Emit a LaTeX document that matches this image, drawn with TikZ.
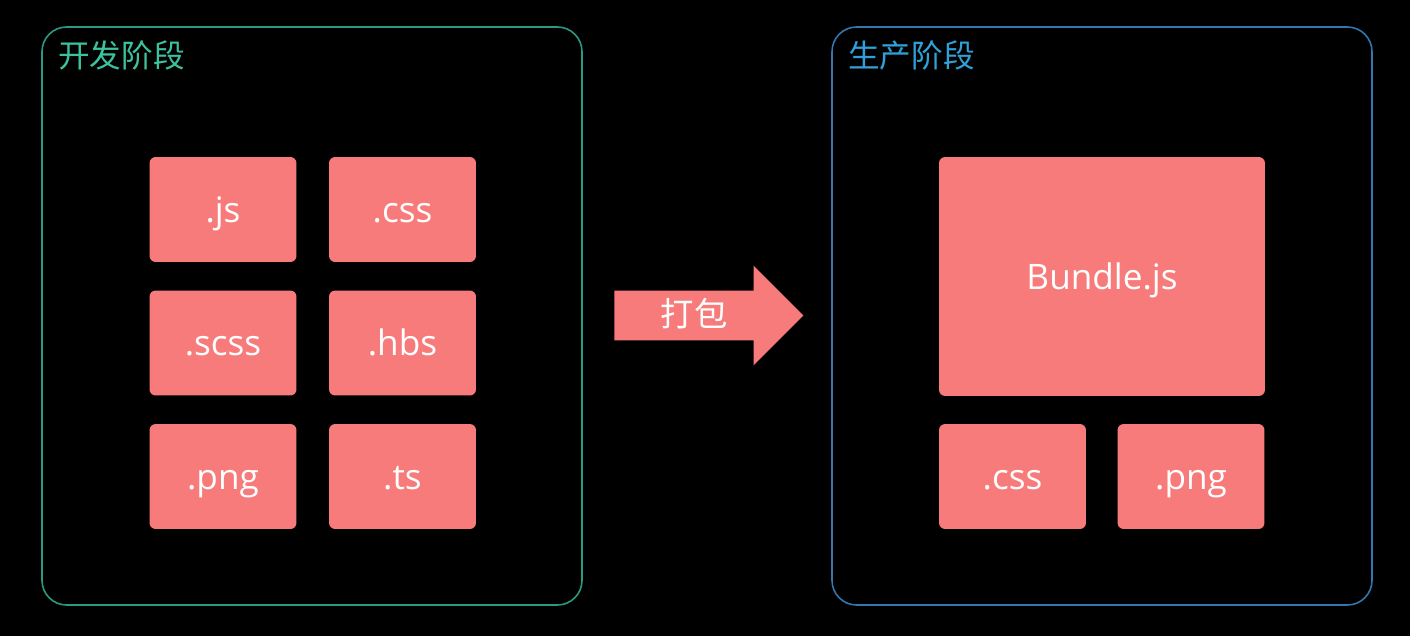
\documentclass[tikz,border=0pt]{standalone}
\usepackage{fontspec}
\setmainfont{Open Sans}
\newfontfamily\cjk{Noto Sans CJK SC}
\usepackage{tikz}
\usetikzlibrary{positioning, shapes.arrows}

\definecolor{boxred}{HTML}{F87B7B}
\definecolor{devgreen}{HTML}{3CC29C}
\definecolor{devframe}{HTML}{2C9A80}
\definecolor{prodblue}{HTML}{2FA0D8}
\definecolor{prodframe}{HTML}{3477AE}

\tikzset{
  filebox/.style={fill=boxred, rounded corners=3.5pt, text=white,
    font=\fontsize{20}{22}\selectfont, minimum width=2.94cm,
    minimum height=2.1cm, inner sep=0pt, text height=14.5pt, text depth=0pt},
  stagetitle/.style={font=\cjk\fontsize{18}{20}\selectfont, anchor=west,
    inner sep=0pt},
}

\begin{document}
\begin{tikzpicture}[x=0.02cm, y=-0.02cm]

% --- Background ---
\fill[black] (0, 0) rectangle (1410, 636);

% --- Development stage ---
\draw[devframe, line width=0.9pt, rounded corners=14pt] (42, 27) rectangle (582, 605);
\node[stagetitle, text=devgreen] (devtitle) at (58, 55) {开发阶段};

\node[filebox] (js) at (223, 209.5) {.js};
\node[filebox] (css) at (402.5, 209.5) {.css};
\node[filebox] (scss) at (223, 343) {.scss};
\node[filebox] (hbs) at (402.5, 343) {.hbs};
\node[filebox] (png) at (223, 476.5) {.png};
\node[filebox] (ts) at (402.5, 476.5) {.ts};

% --- Build arrow ---
\node[single arrow, fill=boxred, minimum width=1.98cm, minimum height=3.78cm,
  single arrow head extend=0.5cm, single arrow head indent=0pt,
  inner xsep=0pt, inner ysep=0.49cm] (buildarrow) at (696.5, 315.5) {};
\node[font=\cjk\fontsize{19}{20}\selectfont, text=white] (pack) at (694, 314) {打包};

% --- Production stage ---
\draw[prodframe, line width=0.9pt, rounded corners=14pt] (832, 27) rectangle (1372, 605);
\node[stagetitle, text=prodblue] (prodtitle) at (848, 55) {生产阶段};

\node[filebox, minimum width=6.52cm, minimum height=4.78cm] (bundle) at (1102, 276.5) {Bundle.js};
\node[filebox] (outcss) at (1012.5, 476.5) {.css};
\node[filebox] (outpng) at (1191, 476.5) {.png};

\end{tikzpicture}
\end{document}
